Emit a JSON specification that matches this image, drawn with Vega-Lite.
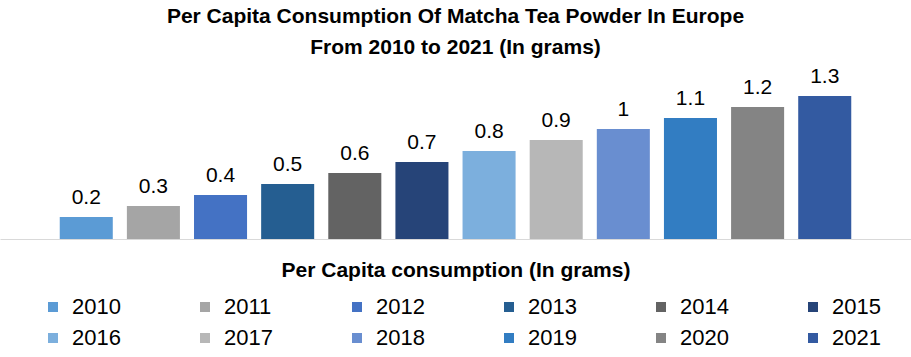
{
  "$schema": "https://vega.github.io/schema/vega-lite/v6.json",
  "width": 911,
  "height": 154,
  "autosize": {"type": "none"},
  "padding": {"left": 0, "top": 85, "right": 0, "bottom": 118},
  "background": "white",
  "config": {"view": {"stroke": null}},
  "title": {
    "text": ["Per Capita Consumption  Of Matcha Tea Powder In Europe", "From 2010 to 2021 (In grams)"],
    "font": "Liberation Sans",
    "fontSize": 21,
    "fontWeight": "bold",
    "color": "#000000",
    "anchor": "middle",
    "lineHeight": 31,
    "offset": 8
  },
  "data": {
    "values": [
      {"Year": "2010", "Value": 0.2},
      {"Year": "2011", "Value": 0.3},
      {"Year": "2012", "Value": 0.4},
      {"Year": "2013", "Value": 0.5},
      {"Year": "2014", "Value": 0.6},
      {"Year": "2015", "Value": 0.7},
      {"Year": "2016", "Value": 0.8},
      {"Year": "2017", "Value": 0.9},
      {"Year": "2018", "Value": 1},
      {"Year": "2019", "Value": 1.1},
      {"Year": "2020", "Value": 1.2},
      {"Year": "2021", "Value": 1.3}
    ]
  },
  "encoding": {
    "x": {
      "field": "Year",
      "type": "nominal",
      "sort": null,
      "scale": {"paddingInner": 0.21, "paddingOuter": 0.89},
      "axis": {
        "title": "Per Capita consumption (In grams)",
        "titleFont": "Liberation Sans",
        "titleFontSize": 21,
        "titleFontWeight": "bold",
        "titleColor": "#000000",
        "titlePadding": 20,
        "labels": false,
        "ticks": false,
        "domainColor": "#D9D9D9",
        "domainWidth": 1
      }
    },
    "y": {
      "field": "Value",
      "type": "quantitative",
      "scale": {"domain": [0, 1.4]},
      "axis": null
    }
  },
  "layer": [
    {
      "mark": {"type": "bar"},
      "encoding": {
        "color": {
          "field": "Year",
          "type": "nominal",
          "sort": null,
          "scale": {
            "domain": ["2010","2011","2012","2013","2014","2015","2016","2017","2018","2019","2020","2021"],
            "range": ["#5B9BD5","#A5A5A5","#4472C4","#255E91","#636363","#264478","#7CAFDD","#B7B7B7","#698ED0","#327DC2","#848484","#335AA1"]
          },
          "legend": {
            "title": null,
            "orient": "none",
            "direction": "horizontal",
            "columns": 6,
            "legendX": 42,
            "legendY": 211,
            "symbolType": "square",
            "symbolSize": 100,
            "symbolStrokeWidth": 0,
            "labelFont": "Liberation Sans",
            "labelFontSize": 22,
            "labelColor": "#000000",
            "labelOffset": 8,
            "columnPadding": 73,
            "rowPadding": 9
          }
        }
      }
    },
    {
      "mark": {"type": "text", "baseline": "bottom", "dy": -9, "font": "Liberation Sans", "fontSize": 21, "color": "#000000"},
      "encoding": {
        "text": {"field": "Value", "type": "quantitative"}
      }
    }
  ]
}
